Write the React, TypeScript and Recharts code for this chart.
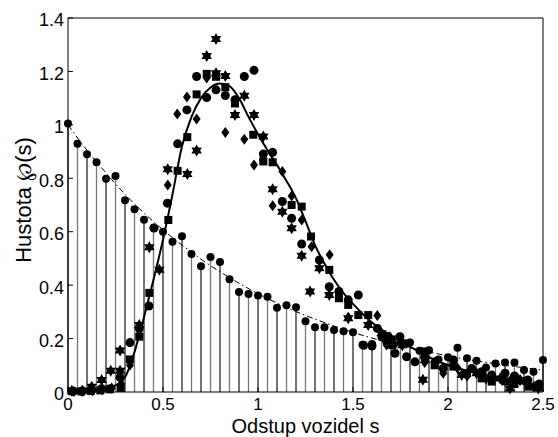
import React from 'react';
import { ComposedChart, Line, Scatter, XAxis, YAxis, ErrorBar } from 'recharts';

// stem plot: histogram of the Poisson reference, bins every 0.05
const stemS = [
  0, 0.05, 0.1, 0.15, 0.2, 0.25, 0.3, 0.35, 0.4, 0.45, 0.5, 0.55, 0.6, 0.65, 0.7, 0.75, 0.8,
  0.85, 0.9, 0.95, 1, 1.05, 1.1, 1.15, 1.2, 1.25, 1.3, 1.35, 1.4, 1.45, 1.5, 1.55, 1.6, 1.65,
  1.7, 1.75, 1.8, 1.85, 1.9, 1.95, 2, 2.05, 2.1, 2.15, 2.2, 2.25, 2.3, 2.35, 2.4, 2.45, 2.5,
];
const stemP = [
  1.005, 0.929, 0.89, 0.86, 0.798, 0.809, 0.718, 0.684, 0.645, 0.615, 0.6, 0.562, 0.583, 0.517,
  0.471, 0.505, 0.487, 0.422, 0.374, 0.367, 0.361, 0.357, 0.315, 0.325, 0.317, 0.265, 0.242,
  0.242, 0.232, 0.227, 0.224, 0.177, 0.18, 0.205, 0.175, 0.19, 0.185, 0.154, 0.156, 0.122, 0.13,
  0.166, 0.126, 0.117, 0.092, 0.107, 0.11, 0.11, 0.082, 0.076, 0.12,
];

// dash-dot reference curve
const expS = [0, 0.1, 0.2, 0.3, 0.4, 0.5, 0.6, 0.7, 0.8, 0.9, 1, 1.1, 1.2, 1.3, 1.4, 1.5, 1.6, 1.7, 1.8, 1.9, 2, 2.1, 2.2, 2.3, 2.4, 2.5];
const expP = [1.0, 0.905, 0.82, 0.74, 0.67, 0.607, 0.55, 0.497, 0.45, 0.407, 0.368, 0.333, 0.301, 0.273, 0.247, 0.223, 0.202, 0.183, 0.165, 0.15, 0.135, 0.122, 0.111, 0.1, 0.091, 0.082];

// solid fitted curve
const fitS = [0, 0.05, 0.1, 0.15, 0.2, 0.25, 0.3, 0.35, 0.4, 0.45, 0.5, 0.55, 0.6, 0.65, 0.7, 0.75, 0.8, 0.85, 0.9, 0.95, 1, 1.05, 1.1, 1.15, 1.2, 1.25, 1.3, 1.35, 1.4, 1.45, 1.5, 1.6, 1.7, 1.8, 1.9, 2, 2.1, 2.2, 2.3, 2.4, 2.5];
const fitP = [0, 0.001, 0.003, 0.006, 0.012, 0.025, 0.055, 0.15, 0.28, 0.42, 0.57, 0.74, 0.92, 1.03, 1.1, 1.14, 1.155, 1.145, 1.1, 1.03, 0.965, 0.905, 0.85, 0.79, 0.725, 0.64, 0.55, 0.48, 0.42, 0.37, 0.33, 0.26, 0.21, 0.17, 0.13, 0.1, 0.08, 0.06, 0.045, 0.03, 0.02];

// measured densities, one list per marker type: [s, density]
const circles: [number, number][] = [
  [0.028, 0.003], [0.072, 0.003], [0.125, 0.008], [0.177, 0.012], [0.221, 0.012], [0.274, 0.055],
  [0.326, 0.185], [0.375, 0.24], [0.426, 0.322], [0.453, 0.614], [0.523, 0.707], [0.577, 0.929],
  [0.626, 1.056], [0.677, 1.181], [0.73, 1.102], [0.779, 1.131], [0.828, 1.11], [0.879, 1.094],
  [0.928, 1.181], [0.979, 1.204], [1.028, 0.891], [1.077, 0.897], [1.128, 0.713], [1.177, 0.65],
  [1.23, 0.554], [1.323, 0.494], [1.375, 0.394], [1.426, 0.376], [1.475, 0.345], [1.528, 0.363],
  [1.556, 0.175], [1.6, 0.172], [1.628, 0.238], [1.677, 0.19], [1.721, 0.145], [1.747, 0.207],
  [1.782, 0.132], [1.826, 0.113], [1.877, 0.13], [1.932, 0.113], [1.975, 0.088], [2.028, 0.12],
  [2.125, 0.088], [2.177, 0.076], [2.23, 0.064], [2.3, 0.07], [2.35, 0.06], [2.42, 0.045], [2.48, 0.03],
];
const squares: [number, number][] = [
  [0.02, 0.003], [0.07, 0.002], [0.12, 0.004], [0.17, 0.006], [0.22, 0.01], [0.277, 0.015],
  [0.326, 0.122], [0.375, 0.207], [0.428, 0.371], [0.528, 0.644], [0.577, 0.828], [0.628, 0.954],
  [0.677, 1.114], [0.73, 1.191], [0.779, 1.18], [0.828, 1.141], [0.879, 1.08], [0.975, 0.963],
  [1.028, 0.863], [1.077, 0.86], [1.177, 0.7], [1.23, 0.694], [1.279, 0.582], [1.375, 0.457],
  [1.426, 0.351], [1.475, 0.326], [1.528, 0.288], [1.58, 0.288], [1.677, 0.21], [1.782, 0.182],
  [1.877, 0.152], [1.93, 0.1], [2.028, 0.095], [2.1, 0.07], [2.177, 0.051], [2.23, 0.039],
  [2.3, 0.04], [2.35, 0.03], [2.423, 0.02], [2.475, 0.025],
];
const diamonds: [number, number][] = [
  [0.03, 0.002], [0.08, 0.004], [0.13, 0.005], [0.18, 0.008], [0.23, 0.015], [0.28, 0.03],
  [0.326, 0.1], [0.375, 0.23], [0.525, 0.775], [0.575, 1.041], [0.626, 1.104], [0.677, 1.022],
  [0.73, 1.175], [0.828, 0.971], [0.928, 0.946], [0.979, 0.85], [1.025, 0.87], [1.077, 0.697],
  [1.128, 0.825], [1.177, 0.734], [1.23, 0.644], [1.282, 0.544], [1.377, 0.514], [1.475, 0.28],
  [1.628, 0.286], [1.677, 0.176], [1.719, 0.177], [1.877, 0.11], [1.975, 0.07], [2.05, 0.09],
  [2.1, 0.06], [2.2, 0.05], [2.28, 0.05], [2.33, 0.045], [2.38, 0.045], [2.45, 0.02],
];
const hexagrams: [number, number][] = [
  [0.02, 0.005], [0.075, 0.005], [0.125, 0.02], [0.177, 0.045], [0.225, 0.08], [0.274, 0.155],
  [0.274, 0.08], [0.375, 0.251], [0.428, 0.542], [0.481, 0.458], [0.525, 0.834], [0.628, 0.816],
  [0.677, 0.904], [0.73, 1.258], [0.779, 1.321], [0.779, 1.193], [0.828, 1.183], [0.879, 1.037],
  [0.928, 1.109], [0.979, 1.037], [1.028, 0.956], [1.077, 0.759], [1.128, 0.675], [1.177, 0.613],
  [1.23, 0.51], [1.274, 0.376], [1.323, 0.463], [1.375, 0.363], [1.475, 0.276], [1.58, 0.251],
  [1.65, 0.22], [1.7, 0.2], [1.76, 0.175], [1.868, 0.046], [1.879, 0.12], [2.072, 0.064],
  [2.15, 0.07], [2.274, 0.051], [2.326, 0.013], [2.379, 0.045], [2.475, 0.013],
];

const xTicks = [0, 0.5, 1, 1.5, 2, 2.5];
const yTicks = [0, 0.2, 0.4, 0.6, 0.8, 1, 1.2, 1.4];

const FONT = '"Liberation Sans", Arial, Helvetica, sans-serif';

const toPts = (s: number[], p: number[]) => s.map((x, i) => ({ s: x, p: p[i] }));
const pairs = (arr: [number, number][]) => arr.map(([s, p]) => ({ s, p }));

const stems = stemS.map((s, i) => ({ s, p: stemP[i], err: [stemP[i], 0] }));
const stemsEven = stems.filter((_, i) => i % 2 === 0);
const stemsOdd = stems.filter((_, i) => i % 2 === 1);

const Dot = (r: number) => (props: any) => <circle cx={props.cx} cy={props.cy} r={r} fill="#000" />;
const Square = (props: any) => <rect x={props.cx - 4} y={props.cy - 4} width={8} height={8} fill="#000" />;
const Diamond = (props: any) => {
  const { cx, cy } = props;
  return <polygon points={`${cx},${cy - 5.5} ${cx + 4},${cy} ${cx},${cy + 5.5} ${cx - 4},${cy}`} fill="#000" />;
};
const Hexagram = (props: any) => {
  const { cx, cy } = props;
  const R = 6;
  const r = R / Math.sqrt(3);
  const pts: string[] = [];
  for (let k = 0; k < 12; k++) {
    const a = -Math.PI / 2 + (k * Math.PI) / 6;
    const rad = k % 2 === 0 ? R : r;
    pts.push(`${cx + rad * Math.cos(a)},${cy + rad * Math.sin(a)}`);
  }
  return <polygon points={pts.join(' ')} fill="#000" />;
};

const tickStyle = { fontSize: 17, fill: '#000', fontFamily: FONT };

export default function App() {
  return (
    <div style={{ position: 'absolute', left: 0, top: 0, width: 558, height: 437, background: '#fff' }}>
      <ComposedChart width={558} height={437} margin={{ top: 8, right: 5, bottom: 5, left: 8 }}>
        <XAxis
          xAxisId="b"
          dataKey="s"
          type="number"
          domain={[0, 2.5]}
          ticks={xTicks}
          height={40}
          tickSize={-5}
          tickMargin={11}
          tick={tickStyle}
          axisLine={{ stroke: '#000' }}
          tickLine={{ stroke: '#000' }}
          label={(props: any) => {
            const vb = props.viewBox;
            return (
              <text x={vb.x + vb.width / 2} y={vb.y + 40.5} textAnchor="middle" fontSize={20} fontFamily={FONT} fill="#000">
                Odstup vozidel s
              </text>
            );
          }}
        />
        <XAxis
          xAxisId="t"
          orientation="top"
          type="number"
          domain={[0, 2.5]}
          allowDataOverflow
          ticks={xTicks}
          height={10}
          tickSize={-5}
          tick={false}
          axisLine={{ stroke: '#000' }}
          tickLine={{ stroke: '#000' }}
        />
        <YAxis
          yAxisId="l"
          type="number"
          domain={[0, 1.4]}
          ticks={yTicks}
          width={60}
          tickSize={-5}
          tickMargin={9}
          tick={{ ...tickStyle, fontSize: 18, dy: 2 }}
          axisLine={{ stroke: '#000' }}
          tickLine={{ stroke: '#000' }}
          label={(props: any) => {
            const vb = props.viewBox;
            const x = vb.x + vb.width - 37;
            const y = vb.y + vb.height / 2 - 5;
            return (
              <text x={x} y={y} transform={`rotate(-90, ${x}, ${y})`} textAnchor="middle" fontSize={22} fontFamily={FONT} fill="#000">
                Hustota ℘(s)
              </text>
            );
          }}
        />
        <YAxis
          yAxisId="r"
          orientation="right"
          type="number"
          domain={[0, 1.4]}
          allowDataOverflow
          ticks={yTicks}
          width={10}
          tickSize={-5}
          tick={false}
          axisLine={{ stroke: '#000' }}
          tickLine={{ stroke: '#000' }}
        />

        <Scatter xAxisId="b" yAxisId="l" data={stemsOdd} dataKey="p" shape={Dot(4)} isAnimationActive={false}>
          <ErrorBar dataKey="err" direction="y" width={0} stroke="#777" strokeWidth={1.3} isAnimationActive={false} />
        </Scatter>
        <Scatter xAxisId="b" yAxisId="l" data={stemsEven} dataKey="p" shape={Dot(4)} isAnimationActive={false}>
          <ErrorBar dataKey="err" direction="y" width={0} stroke="#000" strokeWidth={1.1} isAnimationActive={false} />
        </Scatter>

        <Line
          xAxisId="b"
          yAxisId="l"
          data={toPts(expS, expP)}
          dataKey="p"
          type="monotone"
          stroke="#000"
          strokeWidth={1}
          strokeDasharray="6 3 1.5 3"
          dot={false}
          activeDot={false}
          isAnimationActive={false}
        />

        <Scatter xAxisId="b" yAxisId="l" data={pairs(circles)} dataKey="p" shape={Dot(4.5)} isAnimationActive={false} />
        <Scatter xAxisId="b" yAxisId="l" data={pairs(squares)} dataKey="p" shape={Square} isAnimationActive={false} />
        <Scatter xAxisId="b" yAxisId="l" data={pairs(diamonds)} dataKey="p" shape={Diamond} isAnimationActive={false} />
        <Scatter xAxisId="b" yAxisId="l" data={pairs(hexagrams)} dataKey="p" shape={Hexagram} isAnimationActive={false} />

        <Line
          xAxisId="b"
          yAxisId="l"
          data={toPts(fitS, fitP)}
          dataKey="p"
          type="monotone"
          stroke="#000"
          strokeWidth={2}
          dot={false}
          activeDot={false}
          isAnimationActive={false}
        />
      </ComposedChart>
    </div>
  );
}
